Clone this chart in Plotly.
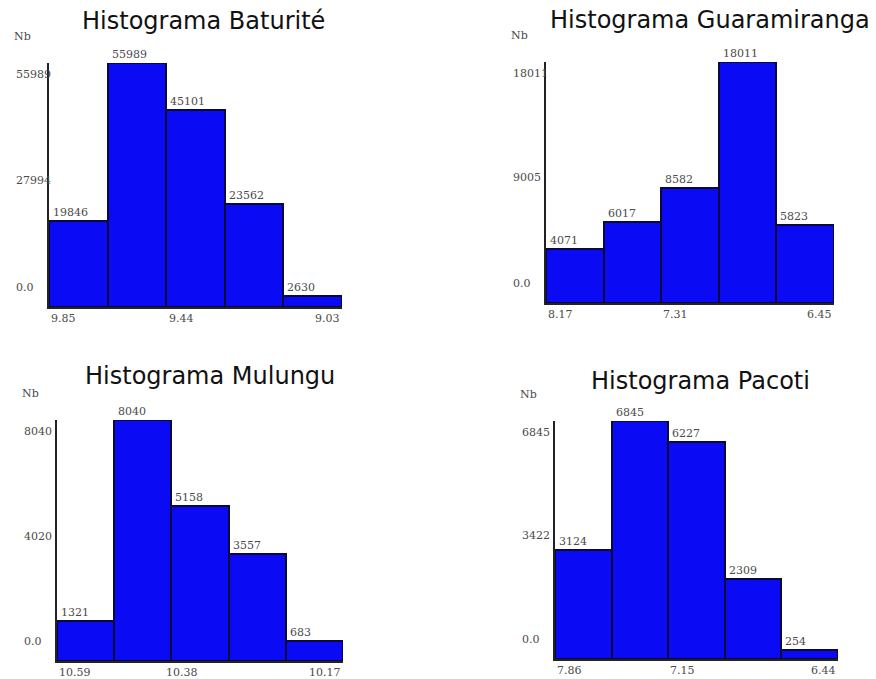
import plotly.graph_objects as go

W, H = 876, 679

titles = ["Histograma Baturité", "Histograma Guaramiranga", "Histograma Mulungu", "Histograma Pacoti"]
counts_baturite = [19846, 55989, 45101, 23562, 2630]
counts_guaramiranga = [4071, 6017, 8582, 18011, 5823]
counts_mulungu = [1321, 8040, 5158, 3557, 683]
counts_pacoti = [3124, 6845, 6227, 2309, 254]
all_counts = [counts_baturite, counts_guaramiranga, counts_mulungu, counts_pacoti]

y_tick_labels = [["0.0", "27994", "55989"], ["0.0", "9005", "18011"],
                 ["0.0", "4020", "8040"], ["0.0", "3422", "6845"]]
x_tick_labels = [["9.85", "9.44", "9.03"], ["8.17", "7.31", "6.45"],
                 ["10.59", "10.38", "10.17"], ["7.86", "7.15", "6.44"]]

# panel pixel boxes (left, right, top, bottom)
boxes = [(49, 342, 63, 307), (546, 834, 62, 303), (57, 343, 420, 661), (555, 838, 421, 659)]
title_shift = [(8, 42), (20, 42), (10, 44), (4, 40)]

fig = go.Figure()
label_font = dict(family="DejaVu Serif", size=11, color="#4a4a4a")
annotations = []

for i, (counts, box) in enumerate(zip(all_counts, boxes)):
    n = i + 1
    xa = "x" if n == 1 else f"x{n}"
    ya = "y" if n == 1 else f"y{n}"
    xkey = "xaxis" if n == 1 else f"xaxis{n}"
    ykey = "yaxis" if n == 1 else f"yaxis{n}"
    L, R, T, B = box
    xs = list(range(len(counts)))
    fig.add_trace(go.Bar(
        x=xs, y=counts, width=1, xaxis=xa, yaxis=ya,
        marker=dict(color="#0a0af5", line=dict(color="#0a0a3a", width=2)),
        showlegend=False, hoverinfo="x+y"))
    ymax = max(counts)
    fig.update_layout(**{
        xkey: dict(domain=[L / W, R / W], range=[-0.5, len(counts) - 0.5], anchor=ya,
                   showgrid=False, zeroline=False, showticklabels=False, ticks="",
                   showline=True, linecolor="#222222", linewidth=1.5),
        ykey: dict(domain=[1 - B / H, 1 - T / H], range=[0, ymax], anchor=xa,
                   showgrid=False, zeroline=False, showticklabels=False, ticks="",
                   showline=True, linecolor="#222222", linewidth=1.5),
    })
    xd = f"{xa} domain"
    yd = f"{ya} domain"
    hpx = B - T
    # title
    tx, ty = title_shift[i]
    annotations.append(dict(text=titles[i], xref=xd, yref=yd, x=0.5, y=1, xshift=tx, yshift=ty,
                            xanchor="center", yanchor="middle", showarrow=False,
                            font=dict(family="DejaVu Sans", size=24, color="#111111")))
    # Nb label
    annotations.append(dict(text="Nb", xref=xd, yref=yd, x=0, y=1, xshift=-27, yshift=27,
                            xanchor="center", yanchor="middle", showarrow=False, font=label_font))
    # y tick labels: evenly spaced between bottom-20px and top+11px
    y_lo = 20 / hpx
    y_hi = 1 - 11 / hpx
    for k, t in enumerate(y_tick_labels[i]):
        yy = y_lo + (y_hi - y_lo) * k / 2
        annotations.append(dict(text=t, xref=xd, yref=yd, x=0, y=yy, xshift=-35,
                                xanchor="left", yanchor="middle", showarrow=False, font=label_font))
    # x tick labels
    xpos = [(-0.5, "left"), ((len(counts) - 1) / 2, "right"), (len(counts) - 0.5, "right")]
    for (xv, anc), t in zip(xpos, x_tick_labels[i]):
        annotations.append(dict(text=t, xref=xa, yref=yd, x=xv, y=0, yshift=-11,
                                xanchor=anc, yanchor="middle", showarrow=False, font=label_font))
    # bar value labels
    for xv, c in zip(xs, counts):
        annotations.append(dict(text=str(c), xref=xa, yref=ya, x=xv - 0.5, y=c, xshift=2, yshift=0,
                                xanchor="left", yanchor="bottom", showarrow=False, font=label_font))

fig.update_layout(width=W, height=H, margin=dict(l=0, r=0, t=0, b=0),
                  paper_bgcolor="white", plot_bgcolor="white", bargap=0,
                  annotations=annotations)

fig.write_html("out.html", config={"displayModeBar": False},
               post_script="document.body.style.margin='0';document.body.style.padding='0';")
